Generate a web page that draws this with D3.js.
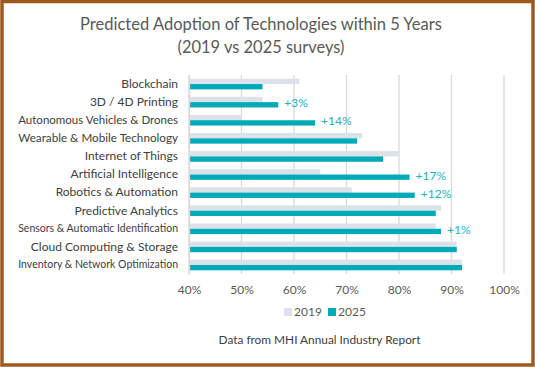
<!DOCTYPE html>
<html><head><meta charset="utf-8">
<script src="https://cdn.jsdelivr.net/npm/d3@7"></script>
<style>html,body{margin:0;padding:0;background:#fff;} svg{display:block;font-family:Lato,"Open Sans",sans-serif;}</style>
</head><body>
<svg id="chart" width="535" height="368"></svg>
<script>
const categories = ["Blockchain","3D / 4D Printing","Autonomous Vehicles & Drones","Wearable & Mobile Technology","Internet of Things","Artificial Intelligence","Robotics & Automation","Predictive Analytics","Sensors & Automatic Identification","Cloud Computing & Storage","Inventory & Network Optimization"];
const values2019 = [0.61,0.54,0.50,0.73,0.80,0.65,0.71,0.88,0.87,0.91,0.92];
const values2025 = [0.54,0.57,0.64,0.72,0.77,0.82,0.83,0.87,0.88,0.91,0.92];
const changeLabels = ["","+3%","+14%","","","+17%","+12%","","+1%","",""];
const seriesNames = ["2019","2025"];
const xTicks = [0.4,0.5,0.6,0.7,0.8,0.9,1.0];
const titleLines = ["Predicted Adoption of Technologies within 5 Years","(2019 vs 2025 surveys)"];
const footnote = "Data from MHI Annual Industry Report";

const colors = {"2019":"#DDE2EA","2025":"#00AAB9"};
const svg = d3.select("#chart");
const W=535,H=368;
svg.append("rect").attr("x",2).attr("y",1.5).attr("width",W-4).attr("height",H-4.5)
  .attr("fill","#fff").attr("stroke","#A0591C").attr("stroke-width",3.5);

function fit(sel, base, target){
  sel.attr("font-size",base);
  const w = sel.node().getComputedTextLength();
  sel.attr("font-size", base*target/w);
}

const x = d3.scaleLinear().domain([0.4,1.0]).range([189,504]);
const y = d3.scaleBand().domain(categories).range([75,274]).paddingInner(0.41).paddingOuter(0.205);
const ys = d3.scaleBand().domain(seriesNames).range([0,y.bandwidth()]);

// title
const tTargets = [362,167];
svg.append("g").selectAll("text").data(titleLines).join("text")
  .attr("x",261).attr("y",(d,i)=>30+i*23).attr("text-anchor","middle")
  .attr("fill","#595959").text(d=>d)
  .each(function(d,i){ fit(d3.select(this),18,tTargets[i]); });

// axis + gridlines
const xAxis = d3.axisBottom(x).tickValues(xTicks).tickFormat(d3.format(".0%")).tickSize(0);
const gAxis = svg.append("g").attr("transform","translate(0,274)").call(xAxis);
gAxis.select(".domain").remove();
gAxis.selectAll("text").attr("font-size",12).attr("fill","#595959").attr("dy",0).attr("y",20).attr("font-family","Lato");
svg.append("g").selectAll("line").data(xTicks).join("line")
  .attr("x1",d=>x(d)).attr("x2",d=>x(d)).attr("y1",75).attr("y2",274)
  .attr("stroke","#D9D9D9").attr("stroke-width",1.3);

// bars
const rows = categories.map((c,i)=>({c, v:{"2019":values2019[i],"2025":values2025[i]}, lab:changeLabels[i]}));
const g = svg.append("g");
rows.forEach(r=>{
  seriesNames.forEach(s=>{
    g.append("rect").attr("x",x(0.4)).attr("y",y(r.c)+ys(s))
     .attr("width",x(r.v[s])-x(0.4)).attr("height",ys.bandwidth()).attr("fill",colors[s]);
  });
  if(r.lab){
    g.append("text").attr("x",x(r.v["2025"])+6).attr("y",y(r.c)+ys("2025")+ys.bandwidth()/2)
     .attr("dy","0.2em").attr("font-size",12).attr("fill","#1FB0C0").text(r.lab);
  }
});

// category axis
const yAxis = d3.axisLeft(y).tickSize(0).tickPadding(11);
const gy = svg.append("g").attr("transform","translate(189,0)").call(yAxis);
gy.select(".domain").attr("stroke","#D9D9D9").attr("stroke-width",1.3);
gy.selectAll("text").attr("fill","#404040").attr("font-family","Lato")
  .each(function(){
    const t = d3.select(this).attr("font-size",12);
    const w = this.getComputedTextLength();
    if (w > 160) t.attr("font-size", 12*160/w);
  });

// legend
const lg = svg.append("g");
const legendX = [284,328];
seriesNames.forEach((s,i)=>{
  lg.append("rect").attr("x",legendX[i]).attr("y",308).attr("width",8).attr("height",8).attr("fill",colors[s]);
  lg.append("text").attr("x",legendX[i]+10).attr("y",316).attr("font-size",12).attr("fill","#595959").text(s);
});

const fn = svg.append("text").attr("x",319.5).attr("y",344).attr("text-anchor","middle")
  .attr("fill","#404040").text(footnote);
fit(fn,13,202);
</script>
</body></html>
